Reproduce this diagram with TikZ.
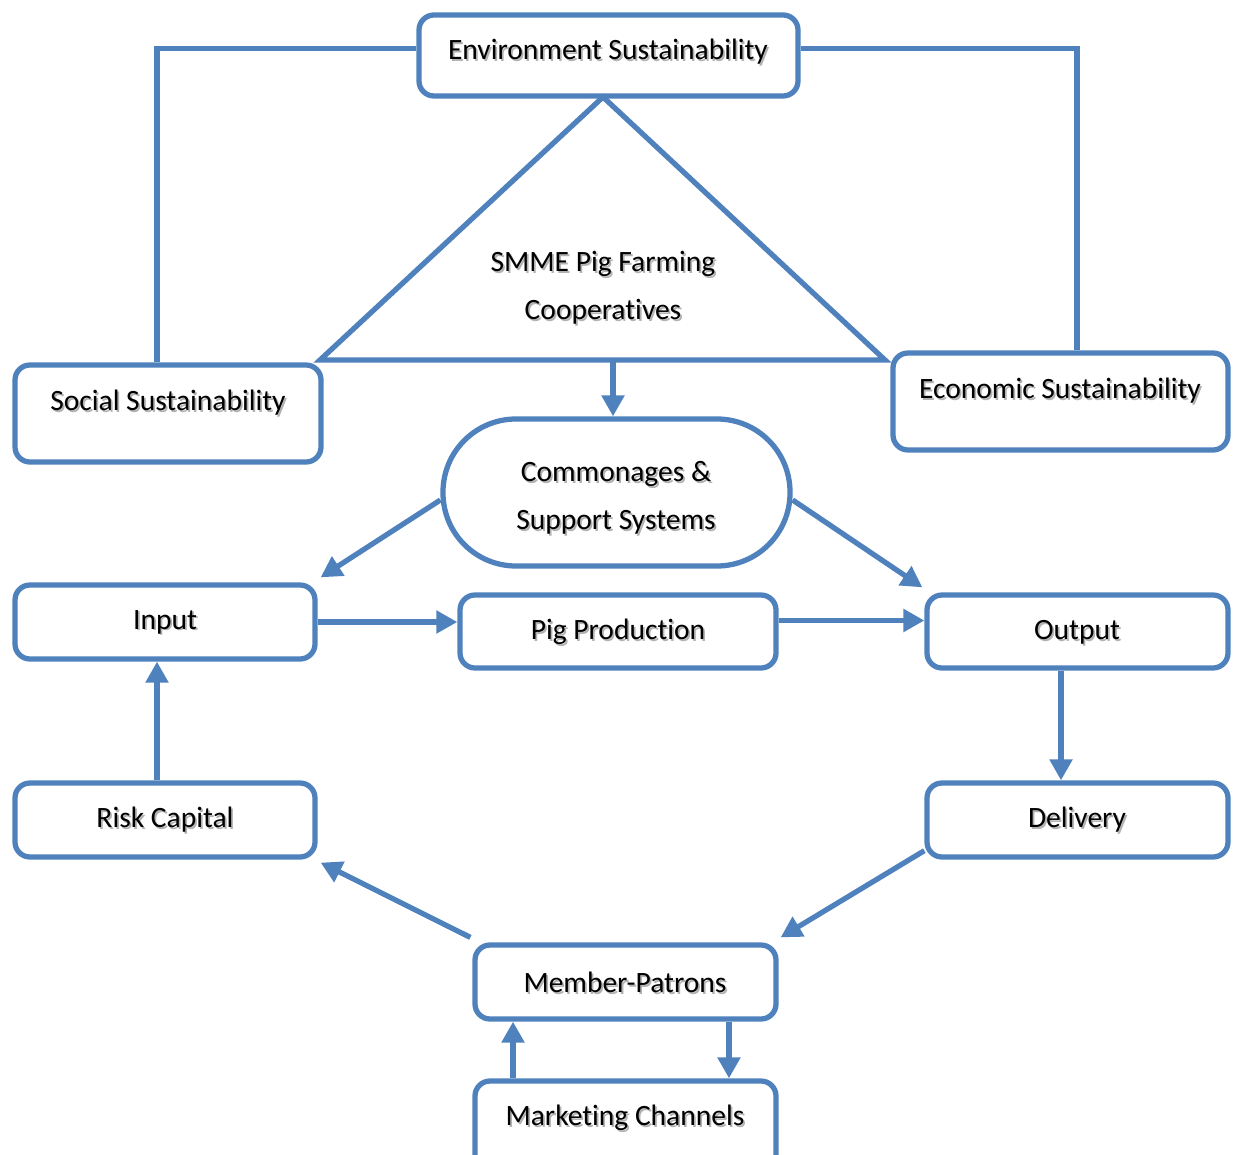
\documentclass[tikz,border=0pt]{standalone}
\usepackage{fontspec}
\setmainfont{Carlito}[Ligatures=NoCommon]
\usetikzlibrary{arrows.meta,fit}
\definecolor{accentblue}{HTML}{4F81BD}
% text with a soft grey drop shadow
\newcommand\shadowtext[1]{\leavevmode\rlap{\kern1pt\raisebox{-1pt}{\textcolor{black!30}{#1}}}#1}

\begin{document}
\begin{tikzpicture}[x=0.02cm,y=-0.02cm,
  box/.style={draw=accentblue, line width=3pt, rounded corners=0.3cm, fill=white, inner sep=0pt},
  lbl/.style={font=\fontsize{16.8}{27.3}\selectfont, inner sep=0pt, align=center},
  link/.style={draw=accentblue, line width=3pt},
  arr/.style={link, -{Triangle[length=0.42cm,width=0.44cm]}}]

\clip (0,0) rectangle (1233,1155);
\useasboundingbox (0,0) rectangle (1233,1155);

% boxes
\node[box, fit={(419,15)(798,96)}] (env) {};
\node[box, fit={(15,365)(321,462)}] (social) {};
\node[box, fit={(893,353)(1228,450)}] (econ) {};
\node[box, rounded corners=1.46cm, fit={(443,419)(790,566)}] (comm) {};
\node[box, fit={(15,585)(315,659)}] (input) {};
\node[box, fit={(460,595)(776,668)}] (pig) {};
\node[box, fit={(927,595)(1228,668)}] (output) {};
\node[box, fit={(15,783)(315,857)}] (risk) {};
\node[box, fit={(927,783)(1228,857)}] (delivery) {};
\node[box, fit={(475,945)(776,1019)}] (member) {};
\node[box, fit={(475,1081)(776,1170)}] (market) {};

% sustainability triangle
\coordinate (apex) at (603,97);
\coordinate (baseL) at (320,360);
\coordinate (baseR) at (885,360);
\coordinate (tribase) at (613,360);
\draw[link, line join=miter] (apex) -- (baseL) -- (baseR) -- cycle;

% labels
\node[lbl] (tenv) at (608,53) {\shadowtext{Environment Sustainability}};
\node[lbl] (tsocial) at (168,404) {\shadowtext{Social Sustainability}};
\node[lbl] (tecon) at (1060,392) {\shadowtext{Economic Sustainability}};
\node[lbl] (tsmme) at (603,289) {\shadowtext{SMME Pig Farming}\\\shadowtext{Cooperatives}};
\node[lbl] (tcomm) at (616,499) {\shadowtext{Commonages \&}\\\shadowtext{Support Systems}};
\node[lbl] (tinput) at (165,623) {\shadowtext{Input}};
\node[lbl] (tpig) at (618,633) {\shadowtext{Pig Production}};
\node[lbl] (toutput) at (1077,633) {\shadowtext{Output}};
\node[lbl] (trisk) at (165,821) {\shadowtext{Risk Capital}};
\node[lbl] (tdelivery) at (1077,821) {\shadowtext{Delivery}};
\node[lbl] (tmember) at (625,983) {\shadowtext{Member-Patrons}};
\node[lbl] (tmarket) at (625,1119) {\shadowtext{Marketing Channels}};

% connectors
\draw[link] ([yshift=0.14cm]env.west) -| ([xshift=-0.22cm]social.north);
\draw[link] ([yshift=0.14cm]env.east) -| ([xshift=0.33cm]econ.north);
\draw[arr] (tribase) -- (tribase |- comm.north);
\draw[arr] ([yshift=-0.15cm]comm.west) -- ([shift={(0.06cm,0.1cm)}]input.north east);
\draw[arr] ([yshift=-0.15cm]comm.east) -- ([shift={(-0.04cm,0.1cm)}]output.north west);
\draw[arr] (input.east) -- (input.east -| pig.west);
\draw[arr] ([yshift=0.22cm]pig.east) -- ([yshift=0.22cm]pig.east -| output.west);
\draw[arr] ([xshift=-0.33cm]output.south) -- ([xshift=-0.33cm]output.south |- delivery.north);
\draw[arr] ([yshift=0.18cm]delivery.south west) -- ([shift={(0.04cm,0.1cm)}]member.north east);
\draw[arr] ([shift={(-0.04cm,0.1cm)}]member.north west) -- ([shift={(0.06cm,-0.06cm)}]risk.south east);
\draw[arr] ([xshift=-0.16cm]risk.north) -- ([xshift=-0.16cm]risk.north |- input.south);
\draw[arr] ([xshift=-2.25cm]market.north) -- ([xshift=-2.25cm]market.north |- member.south);
\draw[arr] ([xshift=2.07cm]member.south) -- ([xshift=2.07cm]member.south |- market.north);
\end{tikzpicture}
\end{document}
